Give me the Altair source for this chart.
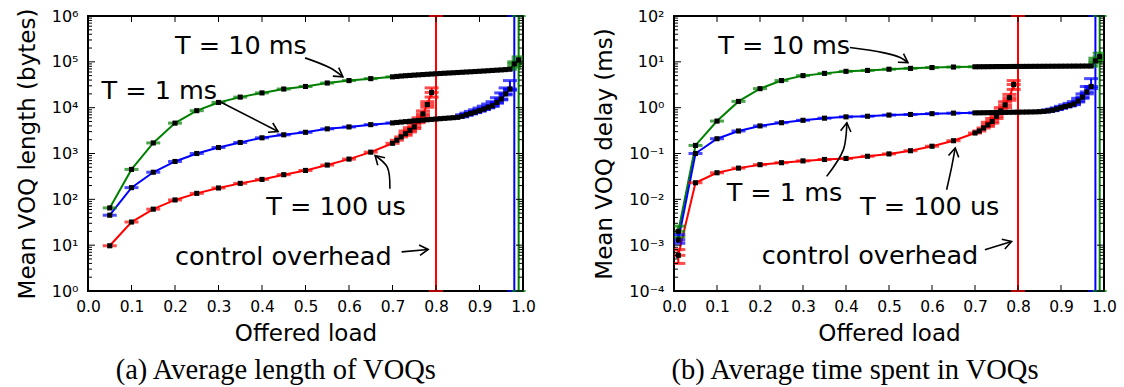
import math
import altair as alt
import pandas as pd

# ---------------- data ----------------
X_MAIN = [0.05, 0.10, 0.15, 0.20, 0.25, 0.30, 0.35, 0.40, 0.45, 0.50, 0.55, 0.60, 0.65]
X_DENSE = [0.70, 0.71, 0.72, 0.73, 0.74, 0.75, 0.76, 0.77, 0.78, 0.79, 0.80, 0.81, 0.82, 0.83,
           0.84, 0.85, 0.86, 0.87, 0.88, 0.89, 0.90, 0.91, 0.92, 0.93, 0.94, 0.95, 0.96, 0.97]
X_RED_DENSE = [0.70, 0.71, 0.72, 0.73, 0.74, 0.75, 0.76, 0.77, 0.78, 0.79]
X_GREEN_TAIL = [0.98, 0.99]
X_BLUE_ERR = [0.86, 0.87, 0.88, 0.89, 0.90, 0.91, 0.92, 0.93, 0.94, 0.95, 0.96, 0.97]
X_RED_ERR = [0.73, 0.74, 0.75, 0.76, 0.77, 0.78, 0.79]
R_X_START = [0.01]

# (a) mean VOQ length (bytes)
L_GREEN = [65, 450, 1700, 4600, 8600, 13000, 17000, 21000, 25500, 29000, 34500, 39000, 43000]
L_GREEN_DENSE = [47000, 48000, 49000, 49800, 50500, 51300, 52000, 52800, 53500, 54200, 55000, 55700,
                 56400, 57100, 57800, 58500, 59200, 60000, 60700, 61500, 62300, 63100, 64000, 64900,
                 65800, 66700, 67700, 69000]
L_GREEN_TAIL = [90000, 110000]
L_GREEN_TAIL_LO = [78000, 92000]
L_GREEN_TAIL_HI = [100000, 128000]
L_BLUE = [45, 180, 390, 670, 1000, 1350, 1740, 2200, 2560, 2900, 3450, 3800, 4260]
L_BLUE_DENSE = [4650, 4750, 4850, 4950, 5050, 5150, 5250, 5350, 5450, 5550, 5650, 5750, 5850, 5950,
                6050, 6150, 6500, 7000, 7500, 8000, 8600, 9300, 10200, 11000, 13000, 15500, 20000, 25500]
L_BLUE_LO = [6300, 6800, 7300, 7800, 8400, 9100, 9900, 10700, 12500, 14800, 19000, 24000]
L_BLUE_HI = [7000, 7600, 8300, 9000, 9800, 10800, 12000, 13500, 16500, 21000, 27000, 39000]
L_RED = [9.7, 32, 61, 97, 135, 177, 223, 272, 345, 427, 560, 755, 1070]
L_RED_DENSE = [1670, 1950, 2300, 2700, 3200, 3800, 5200, 7300, 11700, 21500]
L_RED_LO = [2500, 2950, 3500, 4700, 6500, 10200, 17000]
L_RED_HI = [3100, 3650, 4400, 6000, 8500, 13500, 27000]

# (b) mean VOQ delay (ms)
R_GREEN = [0.002, 0.15, 0.51, 1.37, 2.6, 3.9, 5.0, 5.6, 6.2, 6.5, 6.9, 7.2, 7.5, 7.7]
R_GREEN_DENSE = [7.80, 7.82, 7.83, 7.85, 7.86, 7.88, 7.89, 7.90, 7.91, 7.92, 7.93, 7.94, 7.95, 7.96,
                 7.97, 7.98, 7.99, 8.00, 8.01, 8.02, 8.03, 8.04, 8.05, 8.06, 8.07, 8.08, 8.09, 8.10]
R_GREEN_TAIL = [10.5, 13]
R_GREEN_TAIL_LO = [9.5, 11]
R_GREEN_TAIL_HI = [12, 15.5]
R_GREEN_START_LO = [0.0015]
R_GREEN_START_HI = [0.0026]
R_BLUE = [0.0013, 0.10, 0.21, 0.31, 0.40, 0.47, 0.53, 0.59, 0.63, 0.65, 0.69, 0.71, 0.74, 0.76]
R_BLUE_DENSE = [0.770, 0.772, 0.775, 0.778, 0.780, 0.783, 0.786, 0.789, 0.792, 0.795, 0.798, 0.800,
                0.803, 0.806, 0.810, 0.815, 0.830, 0.850, 0.880, 0.930, 1.00, 1.06, 1.12, 1.20, 1.40,
                1.70, 2.20, 2.90]
R_BLUE_LO = [0.81, 0.83, 0.86, 0.91, 0.97, 1.03, 1.09, 1.16, 1.33, 1.6, 2.0, 2.6]
R_BLUE_HI = [0.86, 0.89, 0.93, 0.99, 1.07, 1.15, 1.24, 1.35, 1.6, 2.0, 2.9, 4.3]
R_BLUE_START_LO = [0.0011]
R_BLUE_START_HI = [0.0017]
R_RED = [0.0006, 0.023, 0.038, 0.048, 0.057, 0.063, 0.069, 0.074, 0.078, 0.087, 0.098, 0.115, 0.144, 0.19]
R_RED_DENSE = [0.28, 0.31, 0.36, 0.42, 0.50, 0.65, 0.85, 1.15, 1.65, 3.2]
R_RED_LO = [0.39, 0.46, 0.58, 0.76, 1.0, 1.45, 2.5]
R_RED_HI = [0.48, 0.58, 0.75, 1.0, 1.35, 1.95, 3.9]
R_RED_START_LO = [0.0004]
R_RED_START_HI = [0.0008]

VLINE_X = [0.8, 0.98, 0.99]
VLINE_SERIES = ["red", "blue", "green"]

TEXTS = ["T = 10 ms", "T = 1 ms", "T = 100 us", "control overhead"]
L_TEXT_X = [0.20, 0.031, 0.41, 0.20]
L_TEXT_Y = [1.47e5, 1.55e4, 44.9, 3.67]
R_TEXT_X = [0.103, 0.1225, 0.4326, 0.204]
R_TEXT_Y = [14.6, 0.0090, 0.0046, 3.9e-4]

L_ARROWS = [
    [(0.499, 1.22e5), (0.556, 7.4e4), (0.586, 4.72e4)],
    [(0.299, 1.42e4), (0.437, 3.01e3)],
    [(0.694, 171), (0.688, 504), (0.660, 905)],
    [(0.721, 7.15), (0.782, 8.06)],
]
R_ARROWS = [
    [(0.409, 20.5), (0.486, 15.9), (0.526, 12.4), (0.544, 9.6)],
    [(0.355, 0.0317), (0.394, 0.1216), (0.402, 0.468)],
    [(0.634, 0.0162), (0.646, 0.0525), (0.654, 0.1324)],
    [(0.723, 7.9e-4), (0.785, 1.2e-3)],
]

X_TICKS = [0.0, 0.1, 0.2, 0.3, 0.4, 0.5, 0.6, 0.7, 0.8, 0.9, 1.0]

COLORS = {"green": "#008000", "blue": "#0000ff", "red": "#ff0000"}
FONT = "DejaVu Sans"


def series_df(x, y, name):
    return pd.DataFrame({"x": x, "y": y, "series": name})


def err_df(x, lo, hi, name):
    return pd.DataFrame({"x": x, "lo": lo, "hi": hi, "series": name})


def build_panel(width, height, ydom, ytitle, caption, series, errs, text_x, text_y, arrows):
    lmin, lmax = math.log10(ydom[0]), math.log10(ydom[1])
    xs = alt.Scale(domain=[0, 1], nice=False, zero=False)
    ys = alt.Scale(type="log", domain=ydom, nice=False)
    cs = alt.Scale(domain=list(COLORS.keys()), range=list(COLORS.values()))
    majors = [10 ** k for k in range(int(lmin), int(lmax) + 1)]
    minors = [m * 10 ** k for k in range(int(lmin), int(lmax)) for m in range(2, 10)]
    sup = "['⁰','¹','²','³','⁴','⁵','⁶','⁷','⁸','⁹']"
    e = "round(log(datum.value)/LN10)"
    label_expr = f"'10' + ({e} < 0 ? '⁻' : '') + {sup}[abs({e})]"

    xaxis = alt.Axis(values=X_TICKS, format=".1f", ticks=False, domain=False, grid=False,
                     labelFont=FONT, labelFontSize=15.5, labelPadding=8, labelColor="black",
                     labelFlush=False, labelOverlap=False,
                     titleFont=FONT, titleFontSize=23, titleFontWeight="normal",
                     titleColor="black", titlePadding=8)
    yaxis = alt.Axis(values=majors, labelExpr=label_expr, ticks=False, domain=False, grid=False,
                     labelFont=FONT, labelFontSize=16, labelPadding=10, labelColor="black",
                     labelFlush=False, labelOverlap=False,
                     titleFont=FONT, titleFontSize=23, titleFontWeight="normal",
                     titleColor="black", titlePadding=12)

    def X(field="x"):
        return alt.X(f"{field}:Q", scale=xs, axis=xaxis, title="Offered load")

    def Y(field="y"):
        return alt.Y(f"{field}:Q", scale=ys, axis=yaxis, title=ytitle)

    sdf = pd.concat(series, ignore_index=True)
    edf = pd.concat(errs, ignore_index=True)
    vdf = pd.DataFrame({"x": VLINE_X, "series": VLINE_SERIES})

    color = alt.Color("series:N", scale=cs, legend=None)

    vlines = alt.Chart(vdf).mark_rule(strokeWidth=2).encode(
        x=X(), y=alt.value(0), y2=alt.value(height), color=color)
    vcap_top = alt.Chart(vdf).mark_tick(orient="horizontal", size=14, thickness=2).encode(
        x=X(), y=alt.value(0), color=color)
    vcap_bot = alt.Chart(vdf).mark_tick(orient="horizontal", size=14, thickness=2).encode(
        x=X(), y=alt.value(height), color=color)

    lines = alt.Chart(sdf).mark_line(strokeWidth=2, clip=True).encode(
        x=X(), y=Y(), color=color, detail="series:N", order="x:Q")
    caps = alt.Chart(sdf).mark_tick(orient="horizontal", size=14, thickness=3, clip=True).encode(
        x=X(), y=Y(), color=color)
    erule = alt.Chart(edf).mark_rule(strokeWidth=2, clip=True).encode(
        x=X(), y=Y("lo"), y2="hi:Q", color=color)
    ecap_lo = alt.Chart(edf).mark_tick(orient="horizontal", size=14, thickness=3, clip=True).encode(
        x=X(), y=Y("lo"), color=color)
    ecap_hi = alt.Chart(edf).mark_tick(orient="horizontal", size=14, thickness=3, clip=True).encode(
        x=X(), y=Y("hi"), color=color)
    squares = alt.Chart(sdf).mark_square(size=26, color="black", opacity=1, clip=True).encode(
        x=X(), y=Y())

    # inward ticks (matplotlib style)
    xt = pd.DataFrame({"x": X_TICKS})
    ymaj = pd.DataFrame({"y": majors})
    ymin = pd.DataFrame({"y": minors})
    tick_kw = dict(color="black", strokeWidth=1)
    xt_bot = alt.Chart(xt).mark_rule(**tick_kw).encode(x=X(), y=alt.value(height), y2=alt.value(height - 6))
    xt_top = alt.Chart(xt).mark_rule(**tick_kw).encode(x=X(), y=alt.value(0), y2=alt.value(6))
    yt_l = alt.Chart(ymaj).mark_rule(**tick_kw).encode(y=Y(), x=alt.value(0), x2=alt.value(7))
    yt_r = alt.Chart(ymaj).mark_rule(**tick_kw).encode(y=Y(), x=alt.value(width), x2=alt.value(width - 7))
    ym_l = alt.Chart(ymin).mark_rule(**tick_kw).encode(y=Y(), x=alt.value(0), x2=alt.value(4))
    ym_r = alt.Chart(ymin).mark_rule(**tick_kw).encode(y=Y(), x=alt.value(width), x2=alt.value(width - 4))

    tdf = pd.DataFrame({"x": text_x, "y": text_y, "t": TEXTS})
    texts = alt.Chart(tdf).mark_text(align="left", baseline="alphabetic", font=FONT,
                                     fontSize=25.5, color="black").encode(x=X(), y=Y(), text="t:N")

    rows, heads = [], []
    for aid, pts in enumerate(arrows):
        for i, (ax, ay) in enumerate(pts):
            rows.append({"id": aid, "i": i, "x": ax, "y": ay})
        (x1, y1), (x2, y2) = pts[-2], pts[-1]
        px1, px2 = x1 * width, x2 * width
        py1 = height * (1 - (math.log10(y1) - lmin) / (lmax - lmin))
        py2 = height * (1 - (math.log10(y2) - lmin) / (lmax - lmin))
        ang = math.degrees(math.atan2(py2 - py1, px2 - px1)) % 360
        heads.append({"x": x2, "y": y2, "angle": ang})
    adf = pd.DataFrame(rows)
    hdf = pd.DataFrame(heads)
    arrow_lines = alt.Chart(adf).mark_line(color="black", strokeWidth=1.6,
                                           interpolate="catmull-rom").encode(
        x=X(), y=Y(), detail="id:N", order="i:Q")
    arrow_heads = alt.Chart(hdf).mark_point(shape="M -1 -0.6 L 0 0 L -1 0.6", filled=False,
                                            stroke="black", strokeWidth=1.6, size=300,
                                            opacity=1).encode(
        x=X(), y=Y(), angle=alt.Angle("angle:Q", scale=None))

    return alt.layer(
        vlines, vcap_top, vcap_bot, lines, erule, ecap_lo, ecap_hi, caps, squares,
        xt_bot, xt_top, yt_l, yt_r, ym_l, ym_r, texts, arrow_lines, arrow_heads,
    ).properties(
        width=width, height=height,
        title=alt.TitleParams(caption, orient="bottom", anchor="middle", frame="bounds",
                              font="Liberation Serif", fontSize=28.5, fontWeight="normal",
                              color="black", offset=10),
    )


left_series = [
    series_df(X_MAIN + X_DENSE + X_GREEN_TAIL, L_GREEN + L_GREEN_DENSE + L_GREEN_TAIL, "green"),
    series_df(X_MAIN + X_DENSE, L_BLUE + L_BLUE_DENSE, "blue"),
    series_df(X_MAIN + X_RED_DENSE, L_RED + L_RED_DENSE, "red"),
]
left_errs = [
    err_df(X_GREEN_TAIL, L_GREEN_TAIL_LO, L_GREEN_TAIL_HI, "green"),
    err_df(X_BLUE_ERR, L_BLUE_LO, L_BLUE_HI, "blue"),
    err_df(X_RED_ERR, L_RED_LO, L_RED_HI, "red"),
]
right_series = [
    series_df(R_X_START + X_MAIN + X_DENSE + X_GREEN_TAIL, R_GREEN + R_GREEN_DENSE + R_GREEN_TAIL, "green"),
    series_df(R_X_START + X_MAIN + X_DENSE, R_BLUE + R_BLUE_DENSE, "blue"),
    series_df(R_X_START + X_MAIN + X_RED_DENSE, R_RED + R_RED_DENSE, "red"),
]
right_errs = [
    err_df(X_GREEN_TAIL + R_X_START, R_GREEN_TAIL_LO + R_GREEN_START_LO, R_GREEN_TAIL_HI + R_GREEN_START_HI, "green"),
    err_df(X_BLUE_ERR + R_X_START, R_BLUE_LO + R_BLUE_START_LO, R_BLUE_HI + R_BLUE_START_HI, "blue"),
    err_df(X_RED_ERR + R_X_START, R_RED_LO + R_RED_START_LO, R_RED_HI + R_RED_START_HI, "red"),
]

left = build_panel(435, 275, [1, 1e6], "Mean VOQ length (bytes)", "(a) Average length of VOQs",
                   left_series, left_errs, L_TEXT_X, L_TEXT_Y, L_ARROWS)
right = build_panel(430, 275, [1e-4, 1e2], "Mean VOQ delay (ms)", "(b) Average time spent in VOQs",
                    right_series, right_errs, R_TEXT_X, R_TEXT_Y, R_ARROWS)

chart = alt.hconcat(left, right, spacing=55).configure_view(
    stroke="black", strokeWidth=2
).properties(background="white", padding={"left": 15, "right": 5, "top": 7, "bottom": 0})

chart.save("out.html", embed_options={"renderer": "svg", "actions": False})
